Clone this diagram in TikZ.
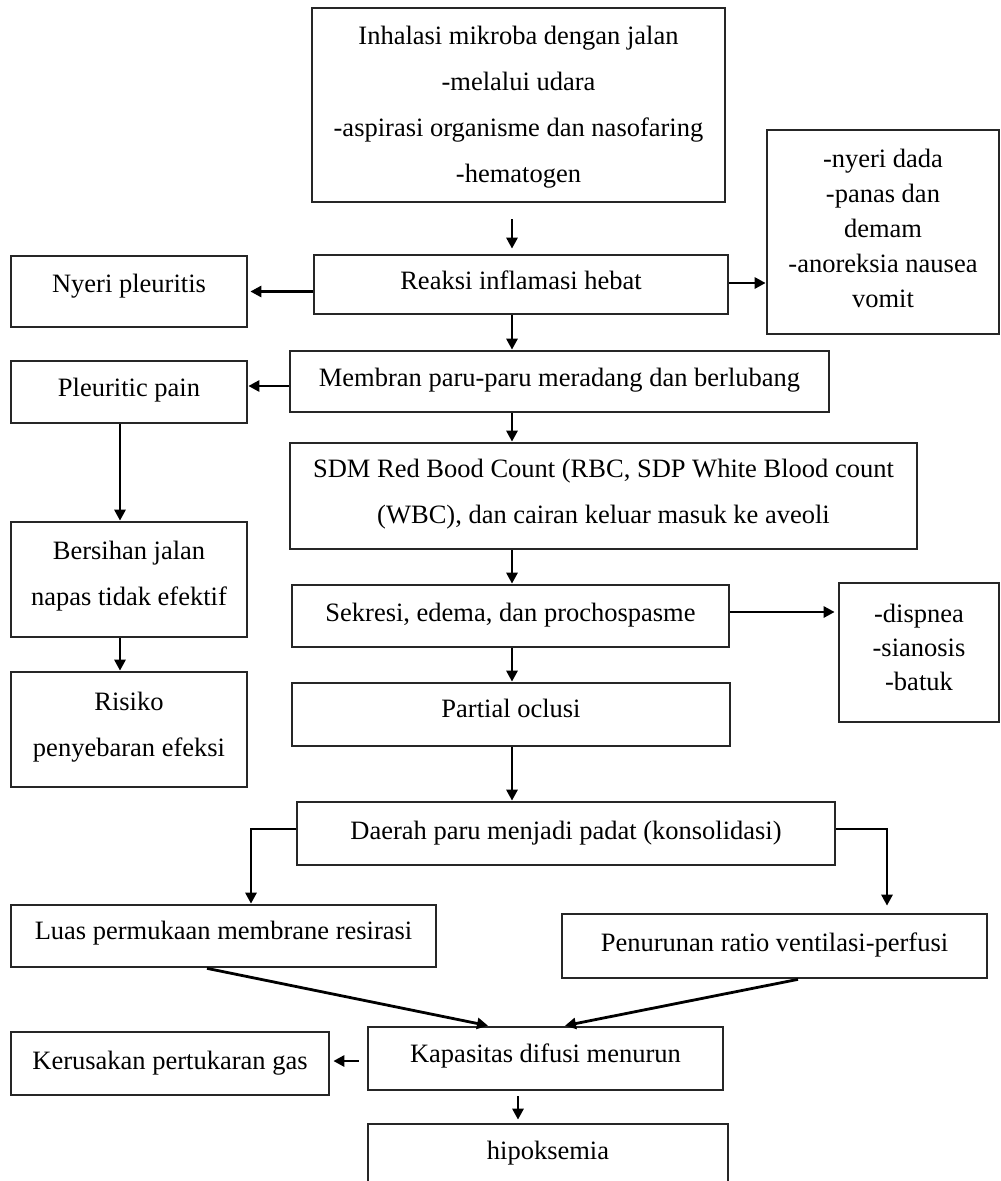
\documentclass[tikz,border=0pt]{standalone}
\usepackage{fontspec}
\setmainfont{Liberation Serif}
\usetikzlibrary{arrows.meta,calc}
\begin{document}
\begin{tikzpicture}[x=1pt,y=-1pt,
  box/.style={draw=black!85,line width=2.7pt,rectangle,inner sep=0pt,align=center,font=\fontsize{26.5}{46}\selectfont},
  one/.style={text height=20pt,text depth=#1},
  tight/.style={font=\fontsize{26.5}{35}\selectfont},
  arr/.style={draw=black,line width=2.8pt,-{Triangle[length=11pt,width=11pt]}}]
\useasboundingbox (0,0) rectangle (1001,1181);
\coordinate (sp) at (512,0);
\coordinate (lc) at (120,0);
\coordinate (lb) at (251,829);
\coordinate (rb) at (887,829);

\node[box,text depth=2pt,minimum width=413pt,minimum height=194pt] (inh) at (518.5,105) {Inhalasi mikroba dengan jalan\\-melalui udara\\-aspirasi organisme dan nasofaring\\-hematogen};
\node[box,one=10pt,minimum width=414pt,minimum height=59pt] (reaksi) at (521,284.5) {Reaksi inflamasi hebat};
\node[box,tight,text depth=8pt,minimum width=232pt,minimum height=204pt] (nyeri) at (883,232) {-nyeri dada\\-panas dan\\demam\\-anoreksia nausea\\vomit};
\node[box,one=18pt,minimum width=236pt,minimum height=71pt] (nyeripl) at (129,291.5) {Nyeri pleuritis};
\node[box,one=10pt,minimum width=539pt,minimum height=61pt] (membran) at (559.5,381.5) {Membran paru-paru meradang dan berlubang};
\node[box,one=11pt,minimum width=236pt,minimum height=62pt] (pleuritic) at (129,392) {Pleuritic pain};
\node[box,text depth=9pt,minimum width=627pt,minimum height=106pt] (sdm) at (603.5,496) {SDM Red Bood Count (RBC, SDP White Blood count\\(WBC), dan cairan keluar masuk ke aveoli};
\node[box,text depth=12pt,minimum width=236pt,minimum height=115pt] (bersihan) at (129,579.5) {Bersihan jalan\\napas tidak efektif};
\node[box,text depth=11pt,minimum width=236pt,minimum height=115pt] (risiko) at (129,729.5) {Risiko\\penyebaran efeksi};
\node[box,one=9pt,minimum width=437pt,minimum height=62pt] (sekresi) at (510.5,616) {Sekresi, edema, dan prochospasme};
\node[box,font=\fontsize{26.5}{34}\selectfont,text depth=11pt,minimum width=160pt,minimum height=139pt] (dispnea) at (919,652.5) {-dispnea\\-sianosis\\-batuk};
\node[box,one=14pt,minimum width=438pt,minimum height=63pt] (partial) at (511,714.5) {Partial oclusi};
\node[box,one=8pt,minimum width=538pt,minimum height=63pt] (daerah) at (566,833.5) {Daerah paru menjadi padat (konsolidasi)};
\node[box,one=13pt,minimum width=425pt,minimum height=62pt] (luas) at (223.5,936) {Luas permukaan membrane resirasi};
\node[box,one=9pt,minimum width=425pt,minimum height=64pt] (penurunan) at (774.5,946) {Penurunan ratio ventilasi-perfusi};
\node[box,one=12pt,minimum width=355pt,minimum height=63pt] (kapasitas) at (545.5,1058.5) {Kapasitas difusi menurun};
\node[box,one=8pt,minimum width=318pt,minimum height=63pt] (kerusakan) at (170,1063.5) {Kerusakan pertukaran gas};
\node[box,one=29pt,minimum width=360pt,minimum height=80pt] (hipo) at (548,1164) {hipoksemia};

% connectors
\draw[arr] ([yshift=-16pt]inh.south -| sp) -- ([yshift=5pt]reaksi.north -| sp);
\draw[arr] (reaksi.west |- nyeripl.east) -- ([xshift=2pt]nyeripl.east);
\draw[arr] (reaksi.east |- 0,283) -- (nyeri.west |- 0,283);
\draw[arr] (reaksi.south -| sp) -- (membran.north -| sp);
\draw[arr] (membran.west |- 0,386) -- (pleuritic.east |- 0,386);
\draw[arr] (membran.south -| sp) -- (sdm.north -| sp);
\draw[arr] (pleuritic.south -| lc) -- (bersihan.north -| lc);
\draw[arr] (sdm.south -| sp) -- (sekresi.north -| sp);
\draw[arr] (bersihan.south -| lc) -- (risiko.north -| lc);
\draw[arr] (sekresi.east |- 0,612) -- ([xshift=-3pt]dispnea.west |- 0,612);
\draw[arr] (sekresi.south -| sp) -- (partial.north -| sp);
\draw[arr] (partial.south -| sp) -- (daerah.north -| sp);
\draw[arr] (daerah.west |- lb) -- (lb) -- (lb |- luas.north);
\draw[arr] (daerah.east |- rb) -- (rb) -- ([yshift=7pt]rb |- penurunan.north);
\draw[arr] ([xshift=-16.5pt]luas.south) -- ([xshift=-57.5pt]kapasitas.north);
\draw[arr] ([xshift=23.5pt]penurunan.south) -- ([xshift=19.5pt]kapasitas.north);
\draw[arr] ([xshift=-8pt]kapasitas.west |- 0,1061) -- ([xshift=3pt]kerusakan.east |- 0,1061);
\draw[arr] ([yshift=-5pt]kapasitas.south -| 518,0) -- ([yshift=3pt]hipo.north -| 518,0);
\end{tikzpicture}
\end{document}
